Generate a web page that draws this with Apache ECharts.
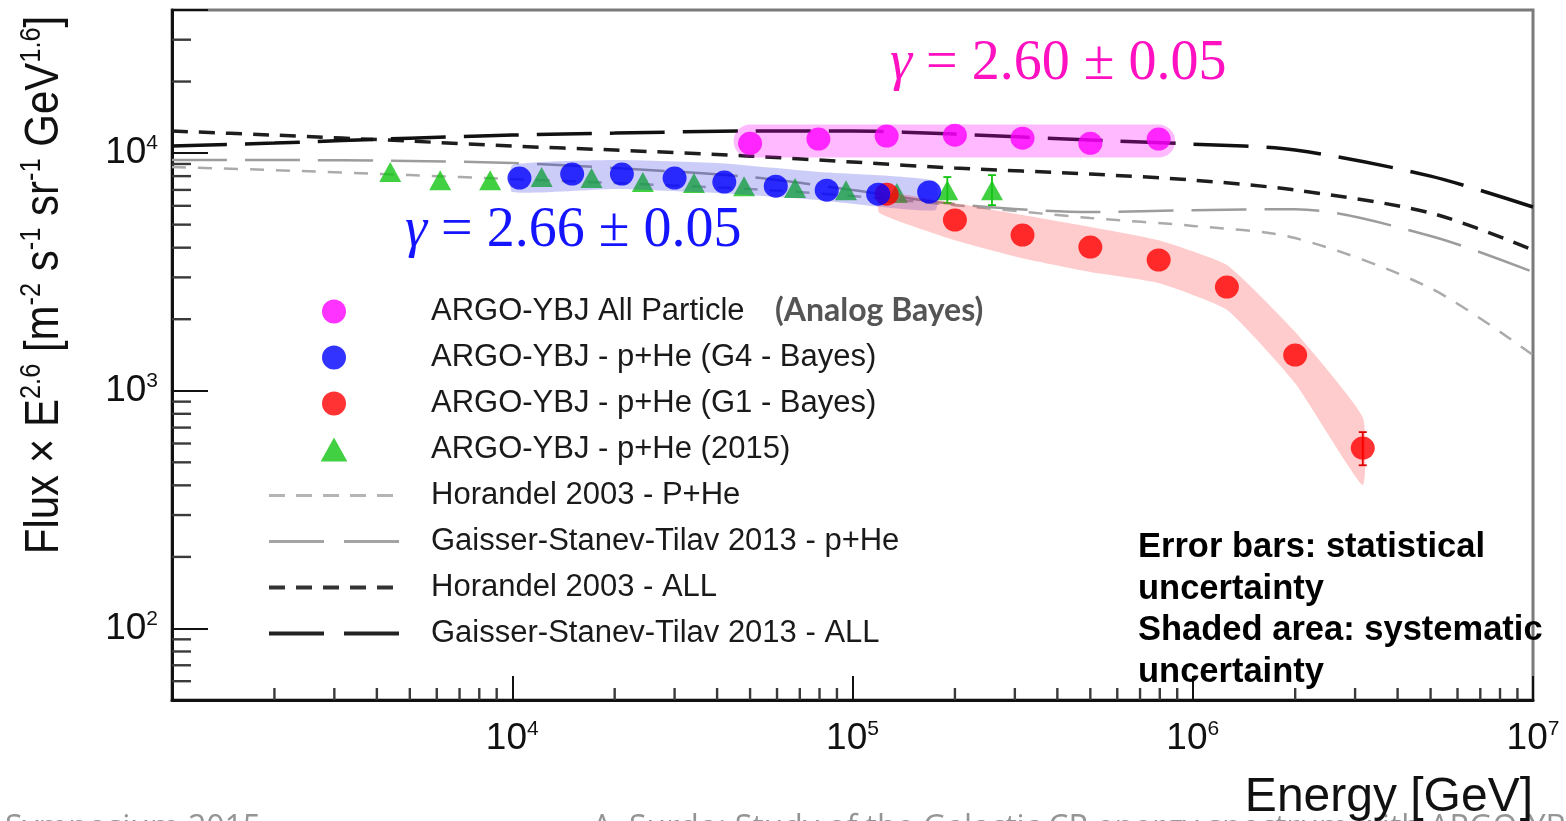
<!DOCTYPE html>
<html>
<head>
<meta charset="utf-8">
<script src="https://cdn.jsdelivr.net/npm/echarts@6/dist/echarts.min.js"></script>
<style>
html,body{margin:0;padding:0;background:#ffffff;}
#chart{width:1566px;height:821px;}
</style>
</head>
<body>
<div id="chart"></div>
<script>
// ---------------- axis ranges / ticks ----------------
const xMin = 1e3, xMax = 1e7;
const yMin = 50, yMax = 40000;
const minorMultipliers = [2, 3, 4, 5, 6, 7, 8, 9];
const xDecades = [1e3, 1e4, 1e5, 1e6];
const yMinorTicks = [60, 70, 80, 90, 200, 300, 400, 500, 600, 700, 800, 900,
  2000, 3000, 4000, 5000, 6000, 7000, 8000, 9000, 20000, 30000];

// ---------------- series names ----------------
const nAll = 'ARGO-YBJ All Particle';
const nG4 = 'ARGO-YBJ - p+He (G4 - Bayes)';
const nG1 = 'ARGO-YBJ - p+He (G1 - Bayes)';
const n2015 = 'ARGO-YBJ - p+He (2015)';
const nHorPHe = 'Horandel 2003 - P+He';
const nGstPHe = 'Gaisser-Stanev-Tilav 2013 - p+He';
const nHorAll = 'Horandel 2003 - ALL';
const nGstAll = 'Gaisser-Stanev-Tilav 2013 - ALL';

// ---------------- data (Energy [GeV], Flux x E^2.6) ----------------
const allE = [5.0e4, 7.94e4, 1.26e5, 2.0e5, 3.16e5, 5.0e5, 7.94e5];
const allF = [11000, 11450, 11800, 11900, 11560, 11000, 11450];

const g4E = [1.05e4, 1.5e4, 2.1e4, 3.0e4, 4.2e4, 5.95e4, 8.4e4, 1.19e5, 1.68e5];
const g4F = [7850, 8160, 8160, 7850, 7550, 7260, 6985, 6720, 6860];

const g1E = [1.26e5, 2.0e5, 3.16e5, 5.0e5, 7.94e5, 1.26e6, 2.0e6, 3.16e6];
const g1F = [6720, 5230, 4520, 4025, 3550, 2730, 1413, 574];
const g1ErrE = [3.16e6];
const g1ErrLo = [486];
const g1ErrHi = [670];

const y2015E = [4380, 6140, 8610, 12200, 17100, 24200, 34200, 48000, 67800, 95700, 135000, 190000, 257000];
const y2015F = [8320, 7690, 7690, 7930, 7850, 7550, 7480, 7260, 7130, 6985, 6790, 6985, 6985];
const y2015ErrE = [190000, 257000];
const y2015ErrLo = [6170, 6040];
const y2015ErrHi = [7930, 8080];

// systematic bands
const pinkBandE = [5.0e4, 7.94e5];
const pinkBandF = [11230, 11230];
const blueBandE = [1.0e4, 2.0e4, 4.0e4, 8.0e4, 1.75e5];
const blueBandHi = [8900, 9350, 9080, 8320, 7630];
const blueBandLo = [6860, 7060, 6790, 6340, 5750];
const redBandE = [1.2e5, 2.0e5, 3.16e5, 5.0e5, 7.94e5, 1.26e6, 2.0e6, 3.16e6];
const redBandHi = [6860, 6170, 5490, 4890, 4300, 3380, 1766, 774];
const redBandLo = [5600, 4300, 3610, 3160, 2840, 2190, 1076, 401];

// model curves
const modelE = [1e3, 2e3, 5e3, 1e4, 2e4, 5e4, 1e5, 2e5, 5e5, 1e6, 2e6, 5e6, 1e7];
const horPHe = [8730, 8480, 8080, 7780, 7480, 7060, 6600, 6040, 5330, 4940, 4390, 2700, 1413];
const gstPHe = [9350, 9350, 9260, 9080, 8650, 7930, 6990, 6100, 5650, 5750, 5810, 4480, 3160];
const horAll = [12380, 11900, 11230, 10700, 10300, 9710, 9170, 8650, 8160, 7700, 6990, 5600, 3910];
const gstAll = [10700, 11020, 11560, 11910, 12140, 12380, 12380, 12020, 11340, 10910, 10300, 8000, 5930];

// ---------------- helpers ----------------
const SANS = 'Liberation Sans';
const zip = (a, b) => a.map((v, i) => [v, b[i]]);
const xMinorTicks = [];
xDecades.forEach(d => minorMultipliers.forEach(m => xMinorTicks.push(d * m)));

function powLabel(v, skipExp) {
  const e = Math.round(Math.log10(v));
  if (Math.abs(Math.pow(10, e) - v) > 1e-6 * v) return '';
  if (e === skipExp) return '';
  return '{b|10}{s|' + e + '}';
}
const labelRich = {
  b: { fontSize: 37, lineHeight: 40, fontFamily: SANS, color: '#111', verticalAlign: 'middle' },
  s: { fontSize: 21, lineHeight: 12, fontFamily: SANS, color: '#111', verticalAlign: 'top' }
};

function bandSeries(E, lo, hi, color, z) {
  return {
    type: 'custom', coordinateSystem: 'cartesian2d', silent: true, z: z,
    data: E.map((e, i) => [e, lo[i], hi[i]]),
    encode: { x: 0, y: [1, 2] },
    renderItem(params, api) {
      if (params.dataIndex !== 0) return null;
      const pts = [];
      for (let i = 0; i < E.length; i++) pts.push(api.coord([E[i], hi[i]]));
      for (let i = E.length - 1; i >= 0; i--) pts.push(api.coord([E[i], lo[i]]));
      return { type: 'polygon', shape: { points: pts, smooth: 0.15 }, style: { fill: color } };
    }
  };
}

function errSeries(E, lo, hi, color, z) {
  return {
    type: 'custom', coordinateSystem: 'cartesian2d', silent: true, z: z,
    data: E.map((e, i) => [e, lo[i], hi[i]]),
    encode: { x: 0, y: [1, 2] },
    renderItem(params, api) {
      const a = api.coord([api.value(0), api.value(1)]);
      const b = api.coord([api.value(0), api.value(2)]);
      const st = { stroke: color, lineWidth: 1.8 };
      return { type: 'group', children: [
        { type: 'line', shape: { x1: a[0], y1: a[1], x2: b[0], y2: b[1] }, style: st },
        { type: 'line', shape: { x1: a[0] - 4, y1: a[1], x2: a[0] + 4, y2: a[1] }, style: st },
        { type: 'line', shape: { x1: b[0] - 4, y1: b[1], x2: b[0] + 4, y2: b[1] }, style: st }
      ]};
    }
  };
}

function tickSeries(data, isX, len) {
  return {
    type: 'custom', coordinateSystem: 'cartesian2d', silent: true, z: 9, clip: false,
    data: data,
    encode: { x: 0, y: 1 },
    renderItem(params, api) {
      const p = api.coord([api.value(0), api.value(1)]);
      const shape = isX ? { x1: p[0], y1: p[1], x2: p[0], y2: p[1] - len }
                        : { x1: p[0], y1: p[1], x2: p[0] + len, y2: p[1] };
      return { type: 'line', shape: shape, style: { stroke: '#3a3a3a', lineWidth: 2.4 } };
    }
  };
}

function modelLine(name, data, color, width, dash) {
  return {
    name: name, type: 'line', data: zip(modelE, data), symbol: 'none', showSymbol: false,
    smooth: 0.3, silent: true, z: 2,
    lineStyle: { color: color, width: width, type: dash }
  };
}

const option = {
  backgroundColor: '#ffffff',
  animation: false,
  grid: { left: 172, right: 33, top: 10, bottom: 121, containLabel: false, outerBoundsMode: 'none',
          show: true, borderColor: '#7a7a7a', borderWidth: 3, backgroundColor: 'transparent' },
  xAxis: {
    type: 'log', logBase: 10, min: xMin, max: xMax,
    axisLine: { show: true, lineStyle: { color: '#111', width: 3 } },
    axisTick: { show: true, inside: true, length: 24, lineStyle: { color: '#111', width: 2 } },
    minorTick: { show: false }, splitLine: { show: false }, minorSplitLine: { show: false },
    axisLabel: { margin: 19, formatter: v => powLabel(v, 3), rich: labelRich, color: '#111' }
  },
  yAxis: {
    type: 'log', logBase: 10, min: yMin, max: yMax,
    axisLine: { show: true, lineStyle: { color: '#111', width: 3 } },
    axisTick: { show: true, inside: true, length: 36, lineStyle: { color: '#111', width: 2 } },
    minorTick: { show: false }, splitLine: { show: false }, minorSplitLine: { show: false },
    axisLabel: { margin: 14, formatter: v => powLabel(v, null), rich: labelRich, color: '#111' }
  },
  legend: {
    orient: 'vertical', left: 262, top: 291, itemWidth: 130, itemHeight: 24, itemGap: 15,
    selectedMode: false,
    textStyle: { fontSize: 31, color: '#1a1a1a', fontFamily: SANS, padding: [0, 0, 0, 27] },
    data: [
      { name: nAll, icon: 'circle' },
      { name: nG4, icon: 'circle' },
      { name: nG1, icon: 'circle' },
      { name: n2015, icon: 'path://M10,0L20,18L0,18Z' },
      { name: nHorPHe, itemStyle: { opacity: 0 }, lineStyle: { color: '#b4b4b4', width: 3, type: [16, 11] } },
      { name: nGstPHe, itemStyle: { opacity: 0 }, lineStyle: { color: '#a4a4a4', width: 3, type: [55, 20] } },
      { name: nHorAll, itemStyle: { opacity: 0 }, lineStyle: { color: '#333333', width: 4, type: [16, 11] } },
      { name: nGstAll, itemStyle: { opacity: 0 }, lineStyle: { color: '#222222', width: 4, type: [55, 20] } }
    ]
  },
  series: [
    modelLine(nHorPHe, horPHe, '#ababab', 2.5, [14, 12]),
    modelLine(nGstPHe, gstPHe, '#9c9c9c', 2.5, [55, 18]),
    modelLine(nHorAll, horAll, '#1e1e1e', 3.5, [16, 11]),
    modelLine(nGstAll, gstAll, '#111111', 3.5, [55, 18]),
    {
      name: n2015, type: 'scatter', data: zip(y2015E, y2015F), symbol: 'triangle', symbolSize: [22, 20],
      itemStyle: { color: '#12c412' }, z: 3, silent: true
    },
    errSeries(y2015ErrE, y2015ErrLo, y2015ErrHi, '#12c412', 3),
    bandSeries(blueBandE, blueBandLo, blueBandHi, 'rgba(40,40,225,0.24)', 4),
    bandSeries(redBandE, redBandLo, redBandHi, 'rgba(250,40,40,0.24)', 5),
    {
      type: 'line', data: zip(pinkBandE, pinkBandF), symbol: 'none', silent: true, z: 5,
      lineStyle: { color: 'rgba(255,0,255,0.27)', width: 33, cap: 'round' }
    },
    {
      name: nG1, type: 'scatter', data: zip(g1E, g1F), symbol: 'circle', symbolSize: [24, 23],
      itemStyle: { color: '#ff0000' }, z: 6, silent: true
    },
    errSeries(g1ErrE, g1ErrLo, g1ErrHi, '#e00000', 6),
    {
      name: nG4, type: 'scatter', data: zip(g4E, g4F), symbol: 'circle', symbolSize: [24, 23],
      itemStyle: { color: '#0000ff' }, z: 7, silent: true
    },
    {
      name: nAll, type: 'scatter', data: zip(allE, allF), symbol: 'circle', symbolSize: [24, 23],
      itemStyle: { color: '#ff00ff' }, z: 7, silent: true
    },
    tickSeries(xMinorTicks.map(v => [v, yMin]), true, 12),
    tickSeries(yMinorTicks.map(v => [xMin, v]), false, 19)
  ],
  graphic: [
    { type: 'text', x: 45, y: 285, rotation: Math.PI / 2, scaleX: 0.875, z: 100,
      style: { text: 'Flux × E{s|2.6} [m{s|-2} s{s|-1} sr{s|-1} GeV{s|1.6}]',
               font: '48px "Liberation Sans"', fill: '#111', align: 'center', verticalAlign: 'middle',
               lineHeight: 56,
               rich: { s: { fontSize: 29, lineHeight: 22, verticalAlign: 'top', fontFamily: SANS, fill: '#111' } } } },
    { type: 'text', x: 1533, y: 798, z: 100,
      style: { text: 'Energy [GeV]', font: '48px "Liberation Sans"', fill: '#111', align: 'right', verticalAlign: 'middle' } },
    { type: 'text', x: 890, y: 64, z: 100,
      style: { text: '{g|γ} = 2.60 ± 0.05', font: '56px "Liberation Serif"', fill: '#ff10c0', align: 'left', verticalAlign: 'middle',
               rich: { g: { fontStyle: 'italic', fontSize: 56, fontFamily: 'Liberation Serif', fill: '#ff10c0' } } } },
    { type: 'text', x: 405, y: 231, z: 100,
      style: { text: '{g|γ} = 2.66 ± 0.05', font: '56px "Liberation Serif"', fill: '#1414ff', align: 'left', verticalAlign: 'middle',
               rich: { g: { fontStyle: 'italic', fontSize: 56, fontFamily: 'Liberation Serif', fill: '#1414ff' } } } },
    { type: 'text', x: 775, y: 311, z: 100,
      style: { text: '(Analog Bayes)', font: 'bold 32px Lato', fill: '#555555', align: 'left', verticalAlign: 'middle' } },
    { type: 'text', x: 1138, y: 527, z: 100,
      style: { text: 'Error bars: statistical\nuncertainty\nShaded area: systematic\nuncertainty',
               font: 'bold 34.5px "Liberation Sans"', fill: '#000', align: 'left', verticalAlign: 'top', lineHeight: 41.5 } },
    { type: 'text', x: 5, y: 813, z: 1,
      style: { text: 'Symposium 2015', font: '32px "Open Sans"', fill: '#959595', align: 'left', verticalAlign: 'top' } },
    { type: 'text', x: 592, y: 813, z: 1,
      style: { text: 'A. Surdo: Study of the Galactic CR energy spectrum with ARGO-YBJ', font: '32px "Open Sans"', fill: '#959595', align: 'left', verticalAlign: 'top' } }
  ]
};

const chart = echarts.init(document.getElementById('chart'), null, { renderer: 'canvas' });
chart.setOption(option);
</script>
</body>
</html>
